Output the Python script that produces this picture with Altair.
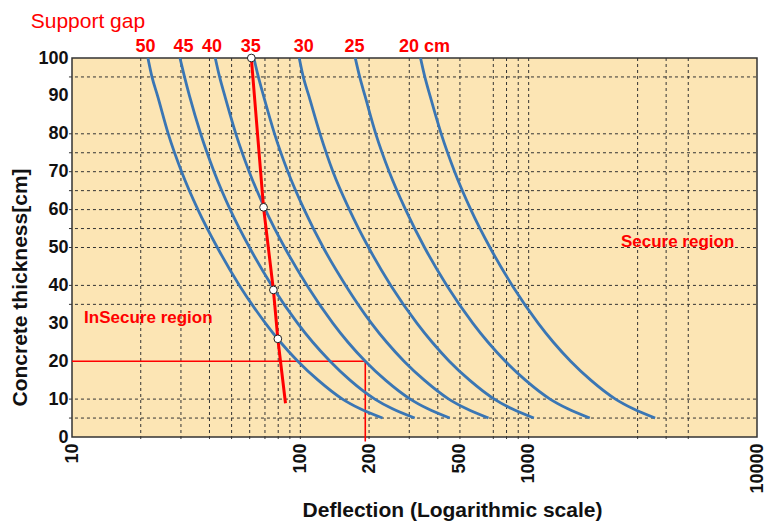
import altair as alt
import pandas as pd

# ---- data ----
thickness = [100, 95, 90, 80, 70, 60, 50, 40, 30, 25, 20, 15, 10, 7.5, 5]
gap_names = ["50", "45", "40", "35", "30", "25", "20 cm"]
gap_50 = [21.5, 22.4, 23.7, 26.4, 30.2, 35.6, 43.3, 54.1, 70.4, 81.9, 97.5, 119.6, 153, 182, 229]
gap_45 = [29.7, 31.1, 32.7, 36.6, 41.9, 49.3, 59.9, 74.9, 97.4, 113.4, 135, 165, 212, 252, 317]
gap_40 = [42.4, 44.3, 46.7, 52.2, 59.7, 70.3, 85.4, 107, 139, 161.7, 192.5, 236, 303, 360, 451]
gap_35 = [62.6, 65.5, 69.0, 77.1, 88.2, 104, 126, 158, 205, 239, 284.5, 349, 447, 532, 667]
gap_30 = [98.9, 103, 109, 122, 139, 164, 199, 249, 324.5, 378, 449, 551, 707, 841, 1054]
gap_25 = [174, 182, 192, 214, 245, 289, 350, 438, 570, 664, 790, 968, 1241, 1477, 1852]
gap_20 = [336, 351, 370, 414, 474, 558, 677, 847, 1102, 1283, 1527, 1871, 2400, 2855, 3580]
curves = [gap_50, gap_45, gap_40, gap_35, gap_30, gap_25, gap_20]
label_defl = [21.0, 30.8, 41.0, 60.6, 103.4, 172.7, 349.7]

critical_defl = [61, 69, 76.2, 79.7, 86.1]
critical_thick = [100, 60.6, 38.8, 25.9, 8.9]
marker_defl = [61, 69, 76.2, 79.7]
marker_thick = [100, 60.6, 38.8, 25.9]

guide_defl = [10, 192.5, 192.5]
guide_thick = [20, 20, -1.2]

grid_x = [20, 30, 40, 50, 60, 70, 80, 90, 100, 200, 300, 400, 500, 700, 800, 900, 1000, 3000, 4000, 5000]
grid_y = [5, 10, 35, 40, 50, 55, 60, 65, 70, 75, 80, 95]

x_ticks = [10, 100, 200, 500, 1000, 10000]
y_ticks = [0, 10, 20, 30, 40, 50, 60, 70, 80, 90, 100]

region_text = ["InSecure region", "Secure region"]
region_defl = [11.3, 2535]
region_thick = [30.2, 50.2]

header_text = "Support gap"
x_title = "Deflection (Logarithmic scale)"
y_title = "Concrete thickness[cm]"

# ---- tables ----
curve_rows = []
for name, vals in zip(gap_names, curves):
    for t, d in zip(thickness, vals):
        curve_rows.append({"gap": name, "defl": d, "thick": t})
curve_df = pd.DataFrame(curve_rows)

crit_df = pd.DataFrame({"defl": critical_defl, "thick": critical_thick, "o": range(len(critical_defl))})
mark_df = pd.DataFrame({"defl": marker_defl, "thick": marker_thick})
guide_df = pd.DataFrame({"defl": guide_defl, "thick": guide_thick, "o": range(len(guide_defl))})
gx_df = pd.DataFrame({"defl": grid_x, "thick": [100] * len(grid_x), "thick2": [-1] * len(grid_x)})
gy_df = pd.DataFrame({"defl": [9.7] * len(grid_y), "defl2": [10000] * len(grid_y), "thick": grid_y})
lab_df = pd.DataFrame({"defl": label_defl, "txt": gap_names})
reg_df = pd.DataFrame({"defl": region_defl, "thick": region_thick, "txt": region_text})

FONT = "Liberation Sans"
RED = "#ff0000"

x_enc = alt.X(
    "defl:Q",
    scale=alt.Scale(type="log", domain=[10, 10000], nice=False),
    axis=alt.Axis(
        values=x_ticks, format="d", labelAngle=270, labelAlign="right", labelBaseline="middle",
        labelPadding=6, labelFont=FONT, labelFontSize=18, labelFontWeight="bold", labelColor="#111",
        ticks=False, domain=False, grid=False, labelOverlap=False,
        title=x_title, titleFont=FONT, titleFontSize=21, titleFontWeight="bold", titleColor="#111",
        titleX=380, titleY=79, titleAlign="center", titleBaseline="alphabetic",
    ),
)
y_enc = alt.Y(
    "thick:Q",
    scale=alt.Scale(domain=[0, 100], nice=False),
    axis=alt.Axis(
        values=y_ticks, labelPadding=4, labelFont=FONT, labelFontSize=18, labelFontWeight="bold",
        labelColor="#111", ticks=False, domain=False, grid=False,
        title=y_title, titleFont=FONT, titleFontSize=21, titleFontWeight="bold", titleColor="#111",
        titleAngle=270, titleX=-51.5, titleY=229, titleAlign="center", titleBaseline="middle",
    ),
)

grid_v = alt.Chart(gx_df).mark_rule(color="#333", strokeWidth=1, strokeDash=[3, 3]).encode(
    x=x_enc, y=y_enc, y2="thick2:Q")
grid_h = alt.Chart(gy_df).mark_rule(color="#333", strokeWidth=1, strokeDash=[3, 3]).encode(
    x=x_enc, x2="defl2:Q", y=y_enc)

guide = alt.Chart(guide_df).mark_line(color=RED, strokeWidth=1.6).encode(
    x=x_enc, y=y_enc, order="o:Q")

lines = alt.Chart(curve_df).mark_line(color="#3a76b4", strokeWidth=2.8, interpolate="monotone").encode(
    x=x_enc, y=y_enc, detail="gap:N")

crit = alt.Chart(crit_df).mark_line(color=RED, strokeWidth=3).encode(
    x=x_enc, y=y_enc, order="o:Q")

marks = alt.Chart(mark_df).mark_point(filled=True, fill="white", stroke="#222", strokeWidth=1,
                                      size=60, opacity=1, shape="circle").encode(x=x_enc, y=y_enc)

top_labels = alt.Chart(lab_df).mark_text(font=FONT, fontSize=18, fontWeight="bold", color=RED,
                                          align="center", baseline="alphabetic").encode(
    x=x_enc, y=alt.value(-6.5), text="txt:N")

regions = alt.Chart(reg_df).mark_text(font=FONT, fontSize=17, fontWeight="bold", color=RED,
                                      align="left", baseline="alphabetic").encode(
    x=x_enc, y=y_enc, text="txt:N")

header = alt.Chart(pd.DataFrame({"txt": [header_text]})).mark_text(
    font=FONT, fontSize=21, color=RED, align="left", baseline="alphabetic").encode(
    x=alt.value(-41.3), y=alt.value(-30), text="txt:N")

chart = alt.layer(grid_v, grid_h, guide, lines, crit, marks, top_labels, regions, header).properties(
    width=685, height=379,
    padding={"left": 64, "top": 50, "right": 10, "bottom": 84},
    autosize=alt.AutoSizeParams(type="none"),
    background="white",
).configure_view(fill="#fce5b4", stroke="#333", strokeWidth=1.5)

chart.save("out.html", embed_options={"renderer": "svg", "actions": False})
